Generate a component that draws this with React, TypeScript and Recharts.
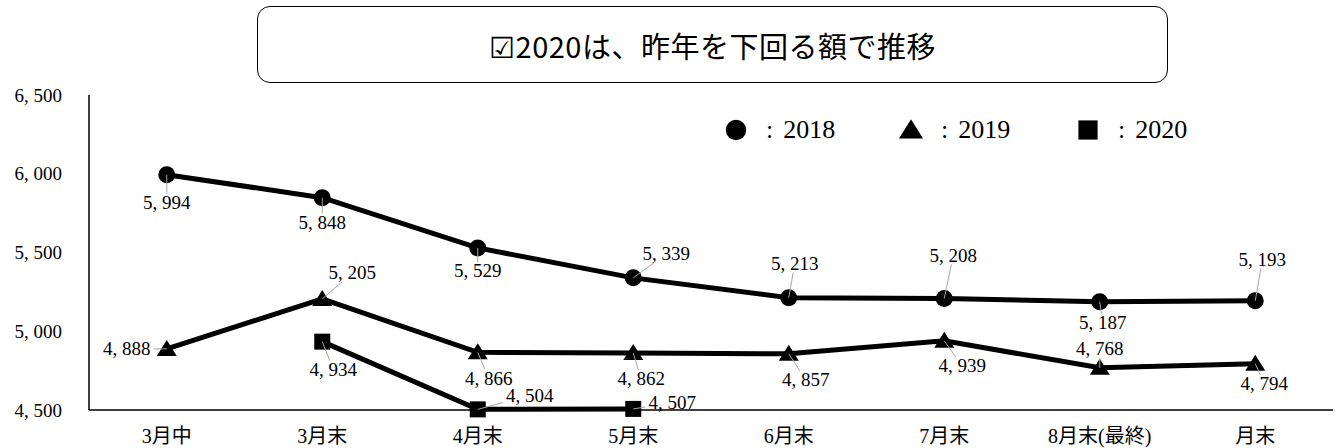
import React from "react";
import { LineChart, Line, XAxis, YAxis } from "recharts";

const categories = ["3月中", "3月末", "4月末", "5月末", "6月末", "7月末", "8月末(最終)", "月末"];
const values2018 = [5994, 5848, 5529, 5339, 5213, 5208, 5187, 5193];
const values2019 = [4888, 5205, 4866, 4862, 4857, 4939, 4768, 4794];
const values2020: (number | null)[] = [null, 4934, 4504, 4507, null, null, null, null];
const yTicks = [4500, 5000, 5500, 6000, 6500];
const titleText = "☑2020は、昨年を下回る額で推移";

// label placement relative to the point (style only)
const offsets2018 = [[0, 28], [0, 25], [0, 23], [33, -24], [6, -34], [9, -43], [3, 21], [7, -41]];
const offsets2019 = [[-40, 0], [30, -26], [11, 26], [8, 26], [17, 26], [18, 25], [0, -19], [9, 20]];
const offsets2020 = [[0, 0], [11, 28], [52, -14], [39, -6], [0, 0], [0, 0], [0, 0], [0, 0]];

const data = categories.map((name, i) => ({
  name,
  y2018: values2018[i],
  y2019: values2019[i],
  y2020: values2020[i],
}));

const SERIF = "'Liberation Serif', 'Noto Sans CJK JP', serif";
const SANS_JP = "'Noto Sans CJK JP', 'Noto Sans', sans-serif";

const fmt = (v: number) => `${Math.floor(v / 1000)}, ${String(v % 1000).padStart(3, "0")}`;

type Shape = "circle" | "triangle" | "square";

const Marker = ({ cx, cy, shape, s = 1 }: { cx: number; cy: number; shape: Shape; s?: number }) => {
  if (shape === "circle") return <circle cx={cx} cy={cy} r={8.5 * s} fill="#000" />;
  if (shape === "triangle")
    return (
      <polygon
        points={`${cx},${cy - 9 * s} ${cx - 10 * s},${cy + 7 * s} ${cx + 10 * s},${cy + 7 * s}`}
        fill="#000"
      />
    );
  return <rect x={cx - 8 * s} y={cy - 8 * s} width={16 * s} height={16 * s} fill="#000" />;
};

const makeDot = (shape: Shape) => (props: any) => {
  const { cx, cy, index, value } = props;
  if (value == null || cx == null || cy == null) return <g key={`d-${index}`} />;
  return (
    <g key={`d-${index}`}>
      <Marker cx={cx} cy={cy} shape={shape} />
    </g>
  );
};

const makeLabel = (offsets: number[][]) => (props: any) => {
  const { x, y, value, index } = props;
  if (value == null || x == null || y == null) return null;
  const [dx, dy] = offsets[index] || [0, 0];
  const tx = x + dx;
  const ty = y + dy;
  // leader line from the point to the edge of the label box
  const t = Math.min(dx === 0 ? Infinity : 27 / Math.abs(dx), dy === 0 ? Infinity : 9 / Math.abs(dy));
  const f = 1 - t;
  return (
    <g key={`l-${index}`}>
      {f > 0.25 && (
        <line x1={x} y1={y} x2={x + dx * f} y2={y + dy * f} stroke="#a6a6a6" strokeWidth={1} />
      )}
      <text
        x={tx}
        y={ty}
        textAnchor="middle"
        dominantBaseline="central"
        fontFamily={SERIF}
        fontSize={19}
        fill="#000"
      >
        {fmt(value)}
      </text>
    </g>
  );
};

const legendItems: { label: string; shape: Shape; left: number }[] = [
  { label: "2018", shape: "circle", left: 724 },
  { label: "2019", shape: "triangle", left: 899 },
  { label: "2020", shape: "square", left: 1076 },
];

export default function App() {
  return (
    <div style={{ position: "absolute", left: 0, top: 0, width: 1335, height: 448, background: "#fff" }}>
      <div
        style={{
          position: "absolute",
          left: 257,
          top: 6,
          width: 909,
          height: 75,
          border: "1.5px solid #000",
          borderRadius: 13,
          display: "flex",
          alignItems: "center",
          justifyContent: "center",
          fontFamily: SANS_JP,
          fontSize: 29,
          color: "#000",
          letterSpacing: 0.5,
        }}
      >
        {titleText}
      </div>

      <LineChart
        width={1335}
        height={448}
        data={data}
        margin={{ top: 95, right: 2, bottom: 0, left: 0 }}
      >
        <XAxis
          dataKey="name"
          height={38}
          padding={{ left: 77.75, right: 77.75 }}
          axisLine={{ stroke: "#000", strokeWidth: 1.5 }}
          tickLine={false}
          tickSize={0}
          tickMargin={19}
          interval={0}
          tick={{ fontSize: 20, fill: "#000", fontFamily: SERIF }}
        />
        <YAxis
          width={89}
          domain={[4500, 6500]}
          ticks={yTicks}
          axisLine={{ stroke: "#000", strokeWidth: 1.5 }}
          tickLine={false}
          tickSize={0}
          tickMargin={27}
          tickFormatter={fmt}
          tick={{ fontSize: 19, fill: "#000", fontFamily: SERIF }}
        />
        <Line
          dataKey="y2018"
          stroke="#000"
          strokeWidth={5}
          isAnimationActive={false}
          dot={makeDot("circle")}
          activeDot={false}
          label={makeLabel(offsets2018)}
        />
        <Line
          dataKey="y2019"
          stroke="#000"
          strokeWidth={5}
          isAnimationActive={false}
          dot={makeDot("triangle")}
          activeDot={false}
          label={makeLabel(offsets2019)}
        />
        <Line
          dataKey="y2020"
          stroke="#000"
          strokeWidth={5}
          isAnimationActive={false}
          dot={makeDot("square")}
          activeDot={false}
          label={makeLabel(offsets2020)}
        />
      </LineChart>

      {legendItems.map((item) => (
        <div
          key={item.label}
          style={{
            position: "absolute",
            left: item.left,
            top: 113,
            height: 34,
            display: "flex",
            alignItems: "center",
            fontFamily: SERIF,
            fontSize: 26,
            color: "#000",
          }}
        >
          <svg width={24} height={24}>
            <Marker cx={12} cy={12} shape={item.shape} s={1.2} />
          </svg>
          <span style={{ marginLeft: 18 }}>:</span>
          <span style={{ marginLeft: 10 }}>{item.label}</span>
        </div>
      ))}
    </div>
  );
}
